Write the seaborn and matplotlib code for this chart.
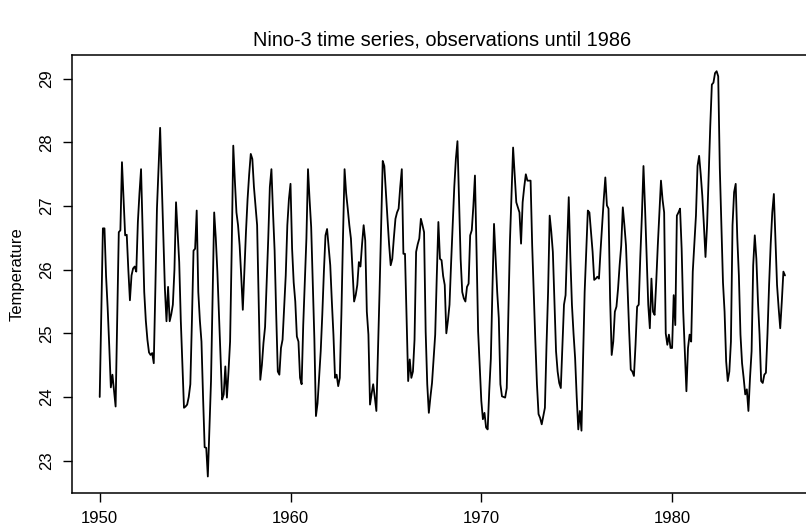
import numpy as np
import pandas as pd
import matplotlib
matplotlib.use("Agg")
import matplotlib.pyplot as plt
import seaborn as sns

# Monthly Nino-3 SST (deg C), Jan 1950 .. Dec 1985
start_year = 1950
temperature = [
    24.0, 25.3, 26.65, 26.65, 25.9, 25.4, 24.8, 24.15, 24.35, 24.1, 23.85, 25.2,      # 1950
    26.59, 26.62, 27.69, 27.1, 26.54, 26.55, 26.0, 25.52, 25.91, 26.02, 26.05, 25.97,  # 1951
    26.75, 27.2, 27.58, 26.6, 25.65, 25.2, 24.9, 24.7, 24.66, 24.69, 24.53, 25.7,      # 1952
    26.96, 27.6, 28.23, 27.4, 26.6, 25.7, 25.19, 25.73, 25.19, 25.3, 25.45, 26.0,      # 1953
    27.06, 26.6, 26.12, 25.2, 24.5, 23.83, 23.85, 23.88, 24.0, 24.2, 25.2, 26.3,       # 1954
    26.33, 26.93, 25.65, 25.2, 24.87, 24.0, 23.21, 23.2, 22.75, 23.5, 24.25, 25.6,     # 1955
    26.9, 26.5, 25.97, 25.3, 24.6, 23.96, 24.04, 24.48, 23.99, 24.4, 24.87, 26.3,      # 1956
    27.95, 27.4, 26.9, 26.7, 26.38, 25.9, 25.37, 26.0, 26.6, 27.11, 27.5, 27.82,       # 1957
    27.74, 27.3, 27.0, 26.7, 25.5, 24.27, 24.5, 24.85, 25.1, 25.8, 26.49, 27.3,        # 1958
    27.58, 26.9, 26.3, 25.3, 24.4, 24.35, 24.77, 24.9, 25.4, 25.91, 26.7, 27.11,       # 1959
    27.35, 26.33, 25.8, 25.5, 24.95, 24.87, 24.3, 24.2, 25.13, 25.8, 26.49, 27.58,     # 1960
    27.1, 26.67, 25.8, 24.92, 23.7, 23.9, 24.3, 24.72, 25.3, 25.97, 26.54, 26.64,      # 1961
    26.35, 26.07, 25.5, 24.98, 24.3, 24.35, 24.17, 24.3, 25.3, 26.5, 27.58, 27.2,      # 1962
    26.96, 26.7, 26.49, 26.0, 25.5, 25.6, 25.76, 26.12, 26.05, 26.4, 26.7, 26.46,      # 1963
    25.34, 24.98, 23.88, 24.05, 24.2, 24.0, 23.78, 24.7, 25.65, 26.7, 27.71, 27.63,    # 1964
    27.2, 26.8, 26.4, 26.07, 26.17, 26.5, 26.8, 26.9, 26.96, 27.3, 27.58, 26.25,       # 1965
    26.25, 25.24, 24.25, 24.59, 24.3, 24.4, 24.9, 26.28, 26.4, 26.49, 26.8, 26.7,      # 1966
    26.59, 25.03, 24.2, 23.75, 24.0, 24.22, 24.6, 24.98, 25.9, 26.75, 26.17, 26.15,    # 1967
    25.9, 25.76, 25.0, 25.2, 25.45, 26.1, 26.7, 27.3, 27.74, 28.02, 27.1, 26.17,       # 1968
    25.65, 25.55, 25.5, 25.73, 25.78, 26.54, 26.62, 27.0, 27.48, 26.3, 25.03, 24.5,    # 1969
    23.94, 23.65, 23.75, 23.52, 23.49, 24.1, 24.6, 25.7, 26.72, 26.2, 25.65, 25.24,    # 1970
    24.2, 24.01, 24.0, 23.99, 24.14, 25.3, 26.44, 27.2, 27.92, 27.5, 27.06, 26.98,     # 1971
    26.9, 26.41, 27.06, 27.3, 27.5, 27.4, 27.4, 27.4, 26.38, 25.6, 24.87, 24.2,        # 1972
    23.73, 23.67, 23.57, 23.7, 23.83, 24.8, 25.65, 26.85, 26.6, 26.28, 25.5, 24.72,    # 1973
    24.4, 24.22, 24.14, 24.8, 25.45, 25.6, 26.4, 27.14, 26.2, 25.45, 25.0, 24.61,      # 1974
    24.0, 23.49, 23.78, 23.47, 24.6, 25.65, 26.3, 26.93, 26.9, 26.6, 26.28, 25.84,     # 1975
    25.86, 25.89, 25.86, 26.3, 26.7, 27.1, 27.45, 27.01, 26.96, 25.55, 24.66, 24.87,   # 1976
    25.34, 25.42, 25.7, 26.07, 26.38, 26.98, 26.7, 26.38, 25.7, 25.03, 24.43, 24.4,    # 1977
    24.33, 24.82, 25.42, 25.45, 26.2, 26.85, 27.63, 26.96, 26.2, 25.45, 25.08, 25.86,  # 1978
    25.34, 25.29, 25.8, 26.38, 26.9, 27.4, 27.1, 26.9, 25.0, 24.82, 24.98, 24.77,      # 1979
    24.77, 25.6, 25.13, 26.85, 26.9, 26.96, 26.33, 25.34, 24.7, 24.09, 24.77, 24.98,   # 1980
    24.87, 25.97, 26.4, 26.85, 27.63, 27.79, 27.5, 27.16, 26.7, 26.2, 26.7, 27.48,     # 1981
    28.26, 28.91, 28.94, 29.09, 29.12, 29.04, 27.6, 26.7, 25.8, 25.34, 24.56, 24.25,   # 1982
    24.4, 24.87, 26.7, 27.22, 27.35, 26.5, 25.91, 24.98, 24.53, 24.3, 24.04, 24.12,    # 1983
    23.78, 24.3, 24.72, 26.07, 26.54, 26.17, 25.5, 24.98, 24.25, 24.22, 24.35, 24.38,  # 1984
    25.0, 25.76, 26.4, 26.9, 27.19, 26.49, 25.76, 25.4, 25.08, 25.5, 25.97, 25.91,     # 1985
]
x_ticks = [1950, 1960, 1970, 1980]
y_ticks = [23, 24, 25, 26, 27, 28, 29]
title = "Nino-3 time series, observations until 1986"
y_label = "Temperature"

temps = np.array(temperature)
time = start_year + np.arange(len(temps)) / 12.0
df = pd.DataFrame({"time": time, "Temperature": temps})

sns.set_style("ticks")
plt.rcParams["font.family"] = ["Liberation Sans", "DejaVu Sans"]

W, H = 806, 532
fig = plt.figure(figsize=(W / 100, H / 100), dpi=100)
left, right, top, bottom = 72.3, 812.4, 55.0, 492.7
ax = fig.add_axes([left / W, (H - bottom) / H, (right - left) / W, (bottom - top) / H])

sns.lineplot(data=df, x="time", y="Temperature", color="black", linewidth=1.3, ax=ax)

xpad = 0.04 * (time.max() - time.min())
ax.set_xlim(time.min() - xpad, time.max() + xpad)
ypad = 0.04 * (temps.max() - temps.min())
ax.set_ylim(temps.min() - ypad, temps.max() + ypad)

ax.set_xticks(x_ticks)
ax.set_xticklabels([str(v) for v in x_ticks], fontsize=12, color="black")
ax.set_yticks(y_ticks)
ax.set_yticklabels([str(v) for v in y_ticks], fontsize=12, color="black",
                   rotation=90, va="center")
ax.tick_params(direction="out", length=6.5, width=1.0, color="black", pad=6.5)
ax.set_xlabel("")
ax.set_ylabel("")
for s in ax.spines.values():
    s.set_color("black")
    s.set_linewidth(1.1)
ax.grid(False)

fig.text(17 / W, 1 - ((top + bottom) / 2) / H, y_label, rotation=90,
         ha="center", va="center", fontsize=12, color="black")
fig.text(((left + right) / 2) / W, 1 - 40 / H, title, ha="center", va="center",
         fontsize=14.4, color="black")

fig.savefig("out.png", dpi=100)
